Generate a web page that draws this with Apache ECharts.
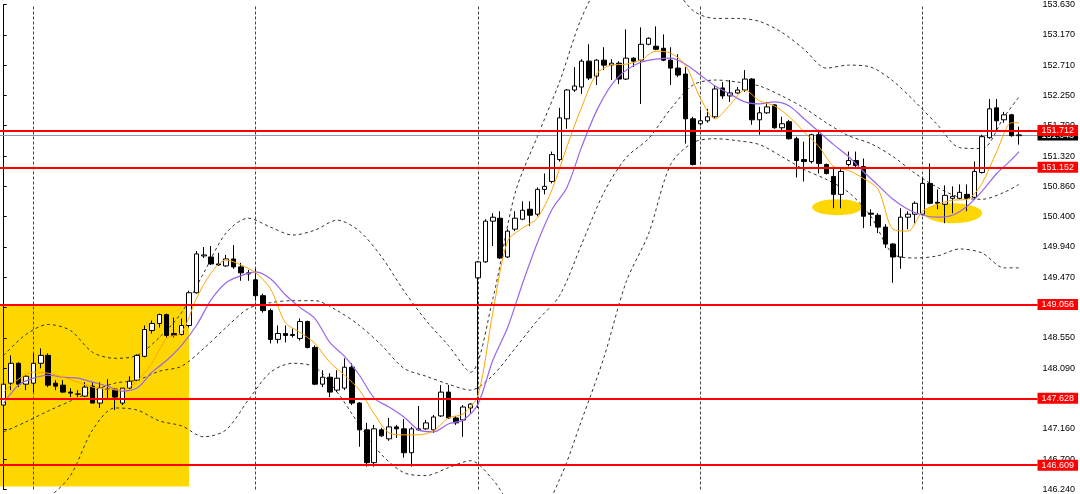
<!DOCTYPE html>
<html><head><meta charset="utf-8">
<script src="https://cdn.jsdelivr.net/npm/echarts@6/dist/echarts.min.js"></script>
<style>html,body{margin:0;padding:0;background:#fff;}#c{width:1080px;height:494px;}</style>
</head><body><div id="c"></div>
<script>
// ---- candle data (OHLC) ----
const opens = [
147.527,147.860,148.163,147.845,147.860,148.163,148.284,147.860,147.830,147.724,
147.694,147.663,147.815,147.557,147.769,147.769,147.557,147.785,147.906,148.269,
148.663,148.769,148.905,148.617,148.602,148.739,149.238,149.799,149.783,149.677,
149.647,149.753,149.632,149.526,149.435,149.193,148.966,148.527,148.617,148.602,
148.542,148.799,148.405,147.845,147.951,147.754,147.785,148.103,147.557,147.149,
146.649,147.149,147.012,147.194,147.164,146.800,147.149,147.164,147.149,147.361,
147.724,147.330,147.300,147.482,149.465,149.708,150.329,150.374,149.783,150.207,
150.359,150.510,150.435,150.813,150.934,151.267,151.888,152.327,152.373,152.767,
152.539,152.782,152.706,152.736,152.494,152.812,152.782,153.024,152.994,152.963,
152.782,152.661,152.570,151.888,151.813,151.858,151.919,152.358,152.237,152.282,
152.327,152.494,151.873,151.979,152.100,151.752,151.843,151.585,151.267,151.237,
151.646,151.192,151.010,150.737,151.192,151.252,151.161,150.450,150.419,150.238,
149.980,149.783,150.389,150.435,150.435,150.904,150.616,150.586,150.677,150.677,
150.737,150.692,151.071,151.601,152.055,151.873,151.949,151.631];
const closes = [
147.845,148.163,147.845,147.966,148.163,148.284,147.830,147.815,147.724,147.709,
147.694,147.800,147.557,147.785,147.769,147.648,147.785,147.891,148.284,148.678,
148.769,148.905,148.587,148.587,148.739,149.238,149.829,149.814,149.677,149.662,
149.753,149.632,149.541,149.541,149.193,148.966,148.527,148.617,148.587,148.587,
148.799,148.405,147.845,147.951,147.724,147.936,148.103,147.557,147.149,146.649,
147.164,147.058,147.194,147.164,146.800,147.164,147.164,147.255,147.345,147.724,
147.330,147.255,147.497,147.542,149.708,150.329,150.389,149.768,150.177,150.374,
150.495,150.419,150.813,150.859,151.343,151.903,152.327,152.388,152.767,152.509,
152.782,152.706,152.736,152.494,152.812,152.767,153.024,153.115,152.948,152.782,
152.661,152.555,151.888,151.192,151.858,151.919,152.343,152.237,152.282,152.327,
152.494,151.873,151.979,152.070,151.752,151.813,151.585,151.252,151.237,151.646,
151.207,151.055,150.737,151.086,151.252,151.177,150.404,150.435,150.238,149.980,
149.783,150.389,150.435,150.601,150.904,150.601,150.601,150.722,150.707,150.768,
150.677,151.086,151.616,152.040,151.858,151.949,151.631,151.643];
const lows = [
147.406,147.754,147.800,147.754,147.724,148.087,147.800,147.754,147.709,147.648,
147.648,147.648,147.557,147.482,147.603,147.451,147.527,147.769,147.891,148.254,
148.617,148.708,148.557,148.557,148.587,148.708,149.223,149.768,149.662,149.647,
149.632,149.602,149.420,149.420,149.117,148.935,148.466,148.466,148.481,148.557,
148.511,148.390,147.830,147.800,147.648,147.724,147.754,147.527,146.891,146.588,
146.588,147.043,146.982,147.027,146.725,146.588,147.133,147.149,147.103,147.345,
147.315,147.224,147.043,147.406,147.482,149.693,149.950,149.753,149.768,150.177,
150.344,150.253,150.404,150.737,150.904,151.237,151.737,152.297,152.267,152.479,
152.403,152.630,152.479,152.418,152.479,152.676,152.115,153.009,152.933,152.767,
152.403,152.524,151.510,151.177,151.782,151.828,151.888,152.191,152.146,152.267,
152.297,151.797,151.646,151.964,151.737,151.691,151.570,150.995,150.934,151.207,
151.055,151.040,150.525,150.525,151.161,151.131,150.223,150.253,150.147,149.920,
149.390,149.602,150.207,150.298,150.419,150.586,150.510,150.298,150.450,150.662,
150.480,150.662,151.055,151.585,151.691,151.828,151.616,151.495];
const highs = [
148.027,148.284,148.178,147.981,148.315,148.390,148.315,147.906,147.906,147.785,
147.754,147.875,147.875,147.875,147.921,147.785,147.785,147.966,148.299,148.739,
148.814,148.920,148.920,148.860,148.845,149.269,149.874,149.935,149.950,149.844,
149.814,149.965,149.693,149.587,149.602,149.223,148.996,148.739,148.739,148.693,
148.845,148.814,148.436,148.057,148.012,148.057,148.239,148.163,147.573,147.255,
147.224,147.179,147.330,147.224,147.315,147.194,147.512,147.300,147.376,147.830,
147.830,147.361,147.527,147.557,149.723,150.359,150.450,150.480,150.207,150.480,
150.631,150.631,150.843,151.055,151.389,152.055,152.343,152.676,152.797,153.024,
152.797,152.979,152.797,152.767,153.251,152.827,153.281,153.130,153.297,153.175,
152.979,152.873,152.676,151.919,152.025,152.040,152.403,152.449,152.479,152.373,
152.630,152.509,152.070,152.146,152.115,151.919,151.873,151.616,151.540,151.661,
151.722,151.207,151.161,151.146,151.389,151.389,151.283,150.510,150.450,150.283,
149.995,150.525,150.480,150.631,150.995,151.207,150.813,150.874,150.859,150.889,
150.889,151.237,151.646,152.191,152.191,151.994,151.964,151.767];

// ---- moving averages (read every 2 bars) ----
const maIdx = [0,2,4,6,8,10,12,14,16,18,20,22,24,26,28,30,32,34,36,38,40,42,44,46,48,50,52,54,56,58,60,62,64,66,68,70,72,74,76,78,80,82,84,86,88,90,92,94,96,98,100,102,104,106,108,110,112,114,116,118,120,122,124,126,128,130,132,134,136,137];
const maFast = [147.724,147.921,148.027,148.012,147.951,147.875,147.800,147.769,147.754,147.891,148.163,148.542,148.633,149.147,149.541,149.738,149.662,149.541,149.299,148.784,148.633,148.466,148.178,147.981,147.754,147.391,147.103,147.073,147.073,147.133,147.330,147.391,147.679,148.935,150.026,150.223,150.374,150.813,151.464,152.070,152.570,152.706,152.721,152.782,152.918,152.888,152.706,152.206,151.888,152.100,152.327,152.161,152.085,151.919,151.691,151.464,151.161,151.101,150.980,150.813,150.207,150.177,150.480,150.586,150.647,150.662,150.904,151.389,151.828,151.828];
const maSlow = [147.557,147.830,147.936,147.981,147.951,147.936,147.875,147.815,147.739,147.785,148.027,148.209,148.436,148.739,149.132,149.390,149.496,149.556,149.450,149.208,149.011,148.845,148.481,148.269,147.981,147.633,147.497,147.345,147.149,147.118,147.239,147.300,147.542,148.209,148.708,149.375,149.995,150.510,150.843,151.464,152.009,152.403,152.630,152.751,152.797,152.812,152.721,152.555,152.388,152.267,152.146,152.115,152.146,152.085,151.888,151.691,151.495,151.313,151.086,150.874,150.662,150.510,150.419,150.389,150.419,150.556,150.783,151.055,151.267,151.389];

// ---- Bollinger bands (read every 3 bars) ----
const bandIdx = [0,3,6,9,12,15,18,21,24,27,30,33,36,39,42,45,48,51,54,57,60,63,66,69,72,75,78,81,84,87,90,93,96,99,102,105,108,111,114,117,120,123,126,129,132,135,137];
const bandUpper = [148.284,148.602,148.754,148.663,148.330,148.239,148.284,148.557,148.935,149.541,150.147,150.374,150.238,150.117,150.192,150.344,150.177,149.783,149.269,148.814,148.436,148.027,149.147,150.753,151.616,152.449,153.433,154.039,154.266,154.266,153.963,153.539,153.418,153.418,153.372,153.206,152.948,152.661,152.706,152.676,152.464,152.146,151.797,151.449,151.434,151.919,152.221];
const bandMid = [147.118,147.270,147.436,147.588,147.739,147.860,147.906,148.042,148.118,148.390,148.708,148.996,149.087,149.117,149.117,148.966,148.739,148.436,148.087,147.966,147.845,147.754,147.981,148.390,148.814,149.193,149.980,150.768,151.298,151.585,152.040,152.403,152.479,152.449,152.388,152.237,152.055,151.828,151.631,151.510,151.313,151.055,150.843,150.692,150.662,150.768,150.889];
const bandLower = [145.952,145.982,146.119,146.452,147.149,147.482,147.451,147.285,147.209,147.043,147.149,147.603,148.027,148.163,148.103,147.724,147.224,146.770,146.497,146.452,146.573,146.679,146.391,145.937,145.861,146.391,147.300,148.254,149.405,150.132,151.192,151.525,151.585,151.555,151.495,151.313,151.116,150.965,150.768,150.404,149.829,149.768,149.799,149.905,149.844,149.617,149.617];

// ---- levels, markers, axis ----
const levels = [151.712, 151.152, 149.056, 147.628, 146.609];
const lastPrice = 151.643;
const separatorIdx = [4, 34, 64, 94, 124];
const boxRange = {x0: -0.5, x1: 25, top: 149.042, bottom: 146.286};
const highlightIdx = [112.47, 128.11];
const highlightPrice = [150.541, 150.450];
const highlightSize = [[50, 16], [58, 20]];
const tickLabels = ['146.240','146.700','147.160','147.630','148.090','148.550','149.010','149.470','149.940','150.400','150.860','151.320','151.790','152.250','152.710','153.170','153.630'];
const yMin = 146.24, yMax = 153.63;
const nCat = 140;

const cats = [];
for (let i = 0; i < nCat; i++) cats.push(String(i));
const candles = opens.map((o, i) => [o, closes[i], lows[i], highs[i]]);
const pairs = (idx, vals) => idx.map((x, k) => [x, vals[k]]);
const yInterval = (yMax - yMin) / (tickLabels.length - 1);
const tagLabel = (text, bg) => ({
  show: true, position: 'end', distance: 0, formatter: text,
  backgroundColor: bg, color: '#fff', fontSize: 9, fontFamily: 'Liberation Sans', padding: [1, 4, 1, 4]
});

const bandStyle = {color: '#333', width: 1, type: [3, 3]};
const chart = echarts.init(document.getElementById('c'), null, {renderer: 'canvas'});
chart.setOption({
  animation: false,
  backgroundColor: '#ffffff',
  grid: {left: -1, right: 42.5, top: 2, bottom: 4, containLabel: false},
  xAxis: [
    {type: 'category', data: cats, boundaryGap: true, show: false},
    {type: 'value', min: -0.5, max: nCat - 0.5, show: false}
  ],
  yAxis: {
    type: 'value', position: 'right', min: yMin, max: yMax, interval: yInterval,
    axisLine: {show: true, lineStyle: {color: '#000', width: 1}},
    axisTick: {show: true, length: 3, lineStyle: {color: '#000'}},
    splitLine: {show: false},
    axisLabel: {
      margin: 5, color: '#000', fontSize: 9, fontFamily: 'Liberation Sans',
      formatter: v => tickLabels[Math.round((v - yMin) / yInterval)] || ''
    }
  },
  series: [
    {
      name: 'highlights', type: 'scatter', xAxisIndex: 1, z: 1, silent: true,
      data: highlightIdx.map((x, k) => ({value: [x, highlightPrice[k]], symbolSize: highlightSize[k]})),
      symbol: 'circle', itemStyle: {color: '#FFD700', opacity: 1},
      markArea: {
        silent: true, z: 0,
        itemStyle: {color: '#FFD700', opacity: 1},
        data: [[{xAxis: boxRange.x0, yAxis: boxRange.top}, {xAxis: boxRange.x1, yAxis: boxRange.bottom}]]
      },
      markLine: {
        silent: true, symbol: 'none', z: 1,
        data: [
          ...separatorIdx.map(x => ({xAxis: x, lineStyle: {color: '#444', width: 1, type: [3, 2]}, label: {show: false}})),
          {yAxis: lastPrice, lineStyle: {color: '#8e9cb0', width: 1, type: 'solid'}, label: tagLabel(lastPrice.toFixed(3), '#000')}
        ]
      }
    },
    {
      name: 'price', type: 'candlestick', xAxisIndex: 0, z: 3,
      data: candles, barWidth: 5,
      itemStyle: {color: '#ffffff', color0: '#000000', borderColor: '#000000', borderColor0: '#000000', borderWidth: 1},
      markLine: {
        silent: true, symbol: 'none', z: 6,
        lineStyle: {color: '#ff0000', width: 2, type: 'solid'},
        data: levels.map(v => ({yAxis: v, label: tagLabel(v.toFixed(3), '#ff0000')}))
      }
    },
    {name: 'upper', type: 'line', xAxisIndex: 1, data: pairs(bandIdx, bandUpper), smooth: 0.3, symbol: 'none', clip: false, lineStyle: bandStyle, z: 2},
    {name: 'mid', type: 'line', xAxisIndex: 1, data: pairs(bandIdx, bandMid), smooth: 0.3, symbol: 'none', clip: false, lineStyle: bandStyle, z: 2},
    {name: 'lower', type: 'line', xAxisIndex: 1, data: pairs(bandIdx, bandLower), smooth: 0.3, symbol: 'none', clip: false, lineStyle: bandStyle, z: 2},
    {name: 'slow', type: 'line', xAxisIndex: 1, data: pairs(maIdx, maSlow), smooth: 0.3, symbol: 'none', clip: false, lineStyle: {color: '#9966ee', width: 1.2}, z: 4},
    {name: 'fast', type: 'line', xAxisIndex: 1, data: pairs(maIdx, maFast), smooth: 0.3, symbol: 'none', clip: false, lineStyle: {color: '#ffa500', width: 1}, z: 4}
  ]
});
</script></body></html>
